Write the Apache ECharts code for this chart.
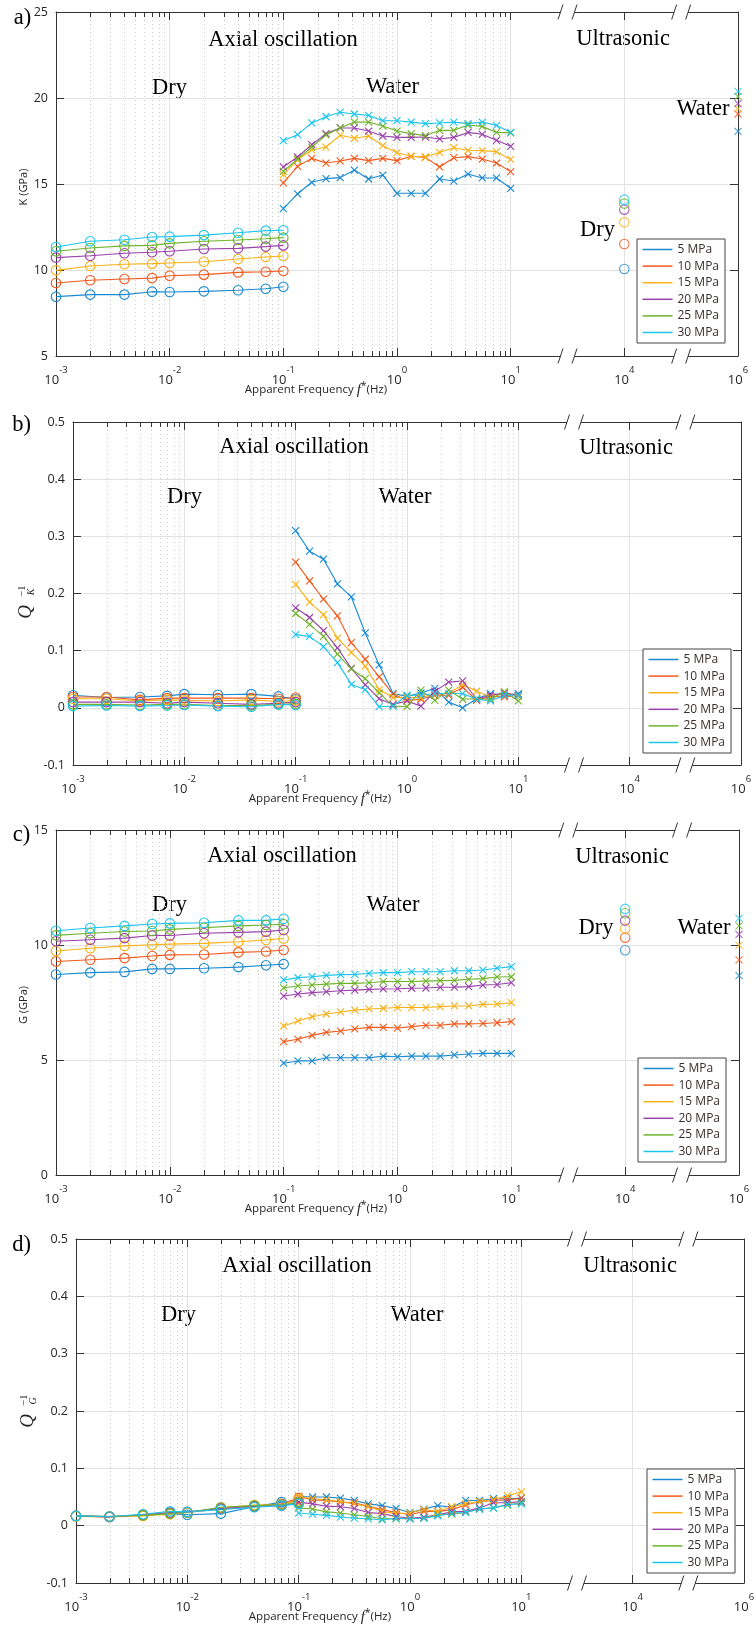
<!DOCTYPE html>
<html>
<head>
<meta charset="utf-8">
<script src="https://cdn.jsdelivr.net/npm/echarts@6.0.0/dist/echarts.min.js"></script>
<style>
html,body{margin:0;padding:0;background:#ffffff;}
#chart{width:756px;height:1631px;}
</style>
</head>
<body>
<div id="chart"></div>
<script>
// ================= DATA =================
const pressures = ['5 MPa','10 MPa','15 MPa','20 MPa','25 MPa','30 MPa'];
const dryFreq = [0.001,0.002,0.004,0.007,0.01,0.02,0.04,0.07,0.1];
const waterFreq = [0.1,0.1334,0.1778,0.2371,0.3162,0.4217,0.5623,0.7499,1,1.334,1.778,2.371,3.162,4.217,5.623,7.499,10];
const ultraDryFreq = 10000;
const ultraWaterFreq = 1000000;
const tickExponents = [-3,-2,-1,0,1,4,6];

// a) K (GPa)
const K_dry = [
  [8.45,8.57,8.57,8.74,8.72,8.76,8.82,8.91,9.03],
  [9.24,9.40,9.48,9.53,9.67,9.73,9.86,9.90,9.94],
  [9.98,10.23,10.33,10.37,10.41,10.48,10.64,10.76,10.81],
  [10.72,10.83,10.97,11.03,11.09,11.22,11.26,11.36,11.43],
  [11.09,11.28,11.40,11.43,11.55,11.67,11.74,11.82,11.88],
  [11.34,11.67,11.76,11.92,11.94,12.03,12.17,12.29,12.31]
];
const K_water = [
  [13.57,14.42,15.10,15.31,15.37,15.81,15.29,15.52,14.46,14.46,14.46,15.29,15.17,15.58,15.35,15.35,14.75],
  [15.06,16.03,16.49,16.22,16.34,16.49,16.36,16.49,16.36,16.61,16.55,15.99,16.53,16.59,16.45,16.22,15.72],
  [15.54,16.41,16.98,17.15,17.83,17.66,17.79,17.23,16.82,16.61,16.57,16.84,17.11,16.96,16.94,16.88,16.43],
  [15.99,16.57,17.29,17.93,18.26,18.26,18.08,17.79,17.71,17.71,17.73,17.62,17.71,18.00,17.89,17.54,17.19],
  [15.74,16.45,17.15,17.85,18.26,18.60,18.60,18.37,18.08,17.93,17.81,18.12,18.12,18.43,18.35,18.00,17.97],
  [17.52,17.87,18.55,18.91,19.17,19.07,18.99,18.68,18.68,18.60,18.51,18.55,18.60,18.51,18.60,18.41,18.00]
];
const K_ultraDry = [10.06,11.51,12.77,13.51,13.86,14.09];
const K_ultraWater = [18.06,19.07,19.38,19.67,20.09,20.38];

// b) Q_K^-1
const QK_dry = [
  [0.022,0.018,0.019,0.021,0.024,0.023,0.024,0.020,0.015],
  [0.019,0.019,0.014,0.017,0.017,0.017,0.017,0.016,0.018],
  [0.016,0.016,0.012,0.014,0.013,0.012,0.014,0.011,0.013],
  [0.010,0.010,0.010,0.008,0.010,0.008,0.006,0.008,0.010],
  [0.006,0.006,0.005,0.006,0.006,0.004,0.004,0.006,0.007],
  [0.003,0.004,0.003,0.004,0.005,0.003,0.002,0.006,0.005]
];
const QK_water = [
  [0.310,0.274,0.260,0.217,0.194,0.131,0.075,0.025,0.020,0.026,0.034,0.010,0.000,0.016,0.025,0.022,0.025],
  [0.255,0.222,0.190,0.161,0.114,0.085,0.054,0.024,0.013,0.015,0.022,0.022,0.036,0.013,0.020,0.019,0.022],
  [0.216,0.185,0.163,0.122,0.097,0.073,0.032,0.018,0.018,0.018,0.024,0.025,0.041,0.029,0.019,0.028,0.019],
  [0.175,0.158,0.135,0.105,0.069,0.040,0.016,0.006,0.012,0.003,0.029,0.045,0.047,0.015,0.022,0.026,0.022],
  [0.165,0.146,0.125,0.094,0.068,0.051,0.026,0.003,0.002,0.031,0.013,0.031,0.015,0.016,0.015,0.028,0.012],
  [0.128,0.125,0.107,0.079,0.041,0.032,0.002,0.003,0.022,0.022,0.025,0.025,0.025,0.015,0.012,0.022,0.022]
];

// c) G (GPa)
const G_dry = [
  [8.72,8.80,8.83,8.96,8.96,8.99,9.04,9.12,9.17],
  [9.28,9.36,9.43,9.52,9.57,9.59,9.68,9.72,9.78],
  [9.74,9.86,9.96,10.01,10.04,10.07,10.14,10.22,10.28],
  [10.16,10.23,10.30,10.41,10.41,10.51,10.55,10.58,10.65],
  [10.42,10.51,10.59,10.61,10.68,10.75,10.83,10.87,10.90],
  [10.62,10.74,10.83,10.91,10.94,10.97,11.07,11.07,11.14]
];
const G_water = [
  [4.86,4.96,4.96,5.10,5.10,5.10,5.10,5.17,5.14,5.17,5.17,5.17,5.22,5.26,5.29,5.29,5.29],
  [5.80,5.90,6.07,6.20,6.26,6.35,6.42,6.42,6.39,6.45,6.51,6.51,6.57,6.57,6.59,6.62,6.67],
  [6.48,6.70,6.88,7.00,7.09,7.17,7.22,7.25,7.28,7.28,7.28,7.32,7.35,7.35,7.42,7.43,7.49],
  [7.78,7.87,7.93,7.97,8.01,8.04,8.07,8.09,8.10,8.12,8.13,8.16,8.17,8.19,8.26,8.28,8.36],
  [8.14,8.22,8.26,8.30,8.33,8.33,8.36,8.41,8.41,8.41,8.43,8.45,8.46,8.51,8.54,8.61,8.62],
  [8.48,8.58,8.62,8.68,8.71,8.72,8.77,8.80,8.80,8.84,8.84,8.84,8.88,8.88,8.91,8.99,9.06]
];
const G_ultraDry = [9.77,10.32,10.71,11.06,11.38,11.57];
const G_ultraWater = [8.67,9.35,9.99,10.46,10.83,11.16];

// d) Q_G^-1
const QG_dry = [
  [0.017,0.015,0.019,0.021,0.019,0.021,0.033,0.041,0.042],
  [0.017,0.016,0.018,0.022,0.023,0.029,0.034,0.038,0.048],
  [0.016,0.015,0.017,0.020,0.023,0.031,0.036,0.037,0.045],
  [0.017,0.015,0.019,0.023,0.024,0.030,0.034,0.035,0.040],
  [0.017,0.016,0.018,0.021,0.023,0.032,0.035,0.037,0.040],
  [0.017,0.016,0.020,0.025,0.024,0.028,0.032,0.035,0.038]
];
const QG_water = [
  [0.051,0.050,0.050,0.048,0.044,0.038,0.035,0.030,0.023,0.029,0.035,0.032,0.044,0.044,0.047,0.047,0.048],
  [0.051,0.045,0.044,0.041,0.040,0.034,0.028,0.023,0.019,0.025,0.025,0.028,0.036,0.042,0.044,0.045,0.048],
  [0.051,0.047,0.045,0.042,0.038,0.033,0.025,0.021,0.022,0.028,0.025,0.033,0.038,0.042,0.045,0.052,0.059],
  [0.041,0.038,0.034,0.033,0.030,0.023,0.021,0.016,0.013,0.015,0.019,0.024,0.025,0.031,0.040,0.040,0.042],
  [0.031,0.029,0.024,0.022,0.019,0.016,0.012,0.012,0.012,0.013,0.019,0.020,0.023,0.029,0.031,0.036,0.040],
  [0.022,0.020,0.018,0.015,0.013,0.012,0.010,0.013,0.012,0.013,0.017,0.022,0.023,0.029,0.031,0.037,0.038]
];

// ================= STYLE / LAYOUT =================
const colors = ['#1a8ad0','#f2581b','#f9b116','#9a40ab','#6fb32a','#1cc4ef'];
const SANS = 'Open Sans';
const SERIF = 'Liberation Serif';
const AXIS_COLOR = '#333333';
const GRID_COLOR = '#e2e2e2';
const CROSS = 'path://M0,0L10,10M10,0L0,10';

// broken frequency axis: decades up to 10 Hz, then 10^1->10^4 and 10^4->10^6 each one unit
function fx(f){
  const L = Math.log10(f);
  if (L <= 1) return L;
  if (L <= 4) return 1 + (L - 1) / 3;
  return 2 + (L - 4) / 2;
}
const X_MIN = -3, X_MAX = 3;
const breakPositions = [1.5, 2.5];
const minorU = [];
for (let d = -3; d < 1; d++) for (let k = 2; k <= 9; k++) minorU.push(d + Math.log10(k));

const panels = [
  {grid:{left:56,top:12,width:682,height:344}, yMin:5, yMax:25, yStep:5,
   dry:K_dry, water:K_water, uDry:K_ultraDry, uWater:K_ultraWater, legend:{left:637,top:239}, titleX:316},
  {grid:{left:73,top:422,width:668,height:343}, yMin:-0.1, yMax:0.5, yStep:0.1,
   dry:QK_dry, water:QK_water, uDry:null, uWater:null, legend:{left:643,top:649}, titleX:320},
  {grid:{left:56,top:830,width:683,height:345}, yMin:0, yMax:15, yStep:5,
   dry:G_dry, water:G_water, uDry:G_ultraDry, uWater:G_ultraWater, legend:{left:638,top:1058}, titleX:316},
  {grid:{left:76,top:1239,width:668,height:344}, yMin:-0.1, yMax:0.5, yStep:0.1,
   dry:QG_dry, water:QG_water, uDry:null, uWater:null, legend:{left:647,top:1469}, titleX:320}
];

const serifLabels = [
  ['a)',22.5,18.5],['Axial oscillation',283,40],['Dry',169.5,88],['Water',392.5,87],['Ultrasonic',623,39.5],['Dry',597.5,230],['Water',703,109.5],
  ['b)',21.5,425.5],['Axial oscillation',294,447.5],['Dry',184.5,497.5],['Water',405,497.5],['Ultrasonic',626,448],
  ['c)',21.5,835],['Axial oscillation',282,856.5],['Dry',169.5,905],['Water',393,905],['Ultrasonic',622,857],['Dry',596,928],['Water',704,928],
  ['d)',21.5,1245],['Axial oscillation',297,1266],['Dry',178.5,1315],['Water',417,1315],['Ultrasonic',630,1266]
];

// ================= OPTION =================
const grid = [], xAxis = [], yAxis = [], series = [], legend = [], graphic = [];

function yFmt(v){ return String(Math.round(v * 1000) / 1000); }
function xFmt(v){ const e = tickExponents[Math.round(v) + 3]; return '{b|10}{s|' + e + '}'; }

panels.forEach((p, i) => {
  grid.push(Object.assign({outerBoundsMode:'none', containLabel:false}, p.grid));
  const xBase = {
    type:'value', gridIndex:i, min:X_MIN, max:X_MAX, interval:1,
    axisLine:{show:true, onZero:false, lineStyle:{color:AXIS_COLOR, width:1}},
    axisTick:{show:true, inside:true, length:8, lineStyle:{color:AXIS_COLOR, width:1}},
    minorTick:{show:false}
  };
  xAxis.push(Object.assign({}, xBase, {
    position:'bottom',
    axisLabel:{show:true, margin:9, showMinLabel:true, showMaxLabel:true, formatter:xFmt,
      rich:{
        b:{fontSize:13, fontFamily:SANS, color:'#262626', lineHeight:22, verticalAlign:'bottom'},
        s:{fontSize:9.5, fontFamily:SANS, color:'#262626', lineHeight:10, verticalAlign:'top'}
      }},
    splitLine:{show:true, lineStyle:{color:GRID_COLOR, width:1}}
  }));
  xAxis.push(Object.assign({}, xBase, {position:'top', axisLabel:{show:false}, splitLine:{show:false}}));
  const yBase = {
    type:'value', gridIndex:i, min:p.yMin, max:p.yMax, interval:p.yStep,
    axisLine:{show:true, onZero:false, lineStyle:{color:AXIS_COLOR, width:1}},
    axisTick:{show:true, inside:true, length:8, lineStyle:{color:AXIS_COLOR, width:1}}
  };
  yAxis.push(Object.assign({}, yBase, {
    position:'left',
    axisLabel:{show:true, margin:8, fontSize:12.5, fontFamily:SANS, color:'#262626', formatter:yFmt, showMinLabel:true, showMaxLabel:true},
    splitLine:{show:true, lineStyle:{color:GRID_COLOR, width:1}}
  }));
  yAxis.push(Object.assign({}, yBase, {position:'right', axisLabel:{show:false}, splitLine:{show:false}}));

  const xi = 2 * i, yi = 2 * i;

  // minor dotted grid (under data)
  series.push({
    type:'custom', xAxisIndex:xi, yAxisIndex:yi, z:1, silent:true, clip:false,
    data:[[0, p.yMin]],
    renderItem:(params, api) => {
      const cs = params.coordSys; const top = cs.y, bot = cs.y + cs.height;
      const children = minorU.map(u => {
        const x = Math.round(api.coord([u, p.yMin])[0]) + 0.5;
        return {type:'line', shape:{x1:x, y1:top, x2:x, y2:bot}, style:{stroke:'#cdcdcd', lineWidth:1, lineDash:[1,3]}};
      });
      return {type:'group', children};
    }
  });

  pressures.forEach((name, k) => {
    const c = colors[k];
    series.push({
      type:'line', name, xAxisIndex:xi, yAxisIndex:yi, z:3, silent:true, clip:false,
      data: dryFreq.map((f, j) => [fx(f), p.dry[k][j]]),
      symbol:'circle', symbolSize:9.5, showAllSymbol:true,
      itemStyle:{color:'rgba(255,255,255,0)', borderColor:c, borderWidth:1.1},
      lineStyle:{color:c, width:1.1}
    });
    series.push({
      type:'line', name, xAxisIndex:xi, yAxisIndex:yi, z:3, silent:true, clip:false,
      data: waterFreq.map((f, j) => [fx(f), p.water[k][j]]),
      symbol:CROSS, symbolSize:7, showAllSymbol:true,
      itemStyle:{color:c, borderColor:c, borderWidth:1.1},
      lineStyle:{color:c, width:1.1}
    });
    if (p.uDry) {
      series.push({
        type:'scatter', name, xAxisIndex:xi, yAxisIndex:yi, z:3, silent:true, clip:false,
        data:[[fx(ultraDryFreq), p.uDry[k]]],
        symbol:'circle', symbolSize:9.5,
        itemStyle:{color:'rgba(255,255,255,0)', borderColor:c, borderWidth:1.1}
      });
    }
    if (p.uWater) {
      series.push({
        type:'scatter', name, xAxisIndex:xi, yAxisIndex:yi, z:3, silent:true, clip:false,
        data:[[fx(ultraWaterFreq), p.uWater[k]]],
        symbol:CROSS, symbolSize:7,
        itemStyle:{color:c, borderColor:c, borderWidth:1.1}
      });
    }
  });

  // minor ticks + axis break marks (above axis lines)
  series.push({
    type:'custom', xAxisIndex:xi, yAxisIndex:yi, z:10, silent:true, clip:false,
    data:[[0, p.yMin]],
    renderItem:(params, api) => {
      const cs = params.coordSys; const top = cs.y, bot = cs.y + cs.height;
      const children = [];
      minorU.forEach(u => {
        const x = Math.round(api.coord([u, p.yMin])[0]) + 0.5;
        children.push({type:'line', shape:{x1:x, y1:bot, x2:x, y2:bot - 5}, style:{stroke:AXIS_COLOR, lineWidth:1}});
        children.push({type:'line', shape:{x1:x, y1:top, x2:x, y2:top + 5}, style:{stroke:AXIS_COLOR, lineWidth:1}});
      });
      breakPositions.forEach(u => {
        const cx = api.coord([u, p.yMin])[0];
        [top, bot].forEach(yy => {
          children.push({type:'rect', shape:{x:cx - 7, y:yy - 2, width:14, height:4}, style:{fill:'#ffffff'}});
          [-7, 7].forEach(d => {
            children.push({type:'line', shape:{x1:cx + d - 2.5, y1:yy + 7.5, x2:cx + d + 2.5, y2:yy - 7.5}, style:{stroke:AXIS_COLOR, lineWidth:1}});
          });
        });
      });
      return {type:'group', children};
    }
  });

  legend.push({
    orient:'vertical', left:p.legend.left, top:p.legend.top,
    data: pressures.map((n, k) => ({name:n, itemStyle:{color:colors[k], borderWidth:0}, lineStyle:{color:colors[k]}})),
    icon:'rect', itemWidth:30, itemHeight:1.5, itemGap:2.6,
    padding:[3.5, 6, 3.5, 5.5], borderColor:'#444444', borderWidth:1, backgroundColor:'#ffffff',
    textStyle:{fontSize:12, fontFamily:SANS, color:'#3a2d2d', lineHeight:14},
    selectedMode:false
  });

  // x axis title
  const gb = p.grid.top + p.grid.height;
  graphic.push({
    type:'text', x:p.titleX, y:gb + 34, silent:true,
    style:{
      text:'{s|Apparent Frequency }{f|f}{p|*}{s|(Hz)}', align:'center', verticalAlign:'middle',
      rich:{
        s:{fontSize:11.5, fontFamily:SANS, fill:'#262626', lineHeight:18},
        f:{fontSize:15, fontFamily:SERIF, fontStyle:'italic', fill:'#262626', lineHeight:18},
        p:{fontSize:10, fontFamily:SANS, fill:'#262626', lineHeight:10, verticalAlign:'top'}
      }
    }
  });
});

// serif annotations
serifLabels.forEach(([t, x, y]) => {
  graphic.push({type:'text', x, y, silent:true,
    style:{text:t, fontSize:22.5, fontFamily:SERIF, fill:'#000000', align:'center', verticalAlign:'middle'}});
});

// y axis titles
function rotText(t, x, y, size, family, italic){
  graphic.push({type:'text', x, y, rotation:Math.PI/2, silent:true,
    style:{text:t, fontSize:size, fontFamily:family, fontStyle:italic ? 'italic' : 'normal', fill:'#262626', align:'center', verticalAlign:'middle'}});
}
rotText('K (GPa)', 24, 187, 11, SANS, false);
rotText('G (GPa)', 24, 1005, 11, SANS, false);
rotText('Q', 25.5, 612, 19, SERIF, true);
rotText('K', 31, 592, 10, SERIF, true);
rotText('\u22121', 22.5, 591, 10.5, SERIF, false);
rotText('Q', 28, 1421, 19, SERIF, true);
rotText('G', 33.5, 1401, 10, SERIF, true);
rotText('\u22121', 24, 1400, 10.5, SERIF, false);

const option = {
  backgroundColor:'#ffffff',
  animation:false,
  tooltip:{show:false},
  grid, xAxis, yAxis, series, legend, graphic
};

const chart = echarts.init(document.getElementById('chart'), null, {renderer:'canvas', width:756, height:1631});
chart.setOption(option);
</script>
</body>
</html>
